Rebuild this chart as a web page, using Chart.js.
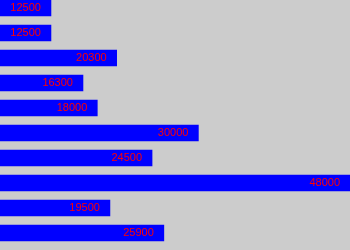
<!DOCTYPE html>
<html>
<head>
<meta charset="utf-8">
<script src="https://cdn.jsdelivr.net/npm/chart.js@4"></script>
<style>
    html, body { margin: 0; padding: 0; background: #cccccc; }
    #wrap { width: 350px; height: 250px; }
</style>
</head>
<body>
<div id="wrap"><canvas id="salaryChart" width="350" height="250"></canvas></div>
<script>
const categories = ['1', '2', '3', '4', '5', '6', '7', '8', '9', '10'];
const salaries = [12500, 12500, 20300, 16300, 18000, 30000, 24500, 48000, 19500, 25900];
const axisMin = 6450;
const axisMax = 48000;

// draws the value inside the end of each bar
const barLabels = {
    id: 'barLabels',
    afterDatasetsDraw(chart) {
        const ctx = chart.ctx;
        const meta = chart.getDatasetMeta(0);
        ctx.save();
        ctx.font = '11px "Liberation Sans", Arial, sans-serif';
        ctx.fillStyle = '#ff0000';
        ctx.textAlign = 'right';
        ctx.textBaseline = 'middle';
        meta.data.forEach((bar, i) => {
            ctx.fillText(String(salaries[i]), bar.x - 10, bar.y);
        });
        ctx.restore();
    }
};

new Chart(document.getElementById('salaryChart').getContext('2d'), {
    type: 'bar',
    data: {
        labels: categories,
        datasets: [{
            data: salaries,
            backgroundColor: '#0000ff',
            borderWidth: 0,
            barThickness: 16,
            clip: false
        }]
    },
    options: {
        indexAxis: 'y',
        responsive: false,
        animation: false,
        layout: { padding: { top: 8, bottom: 17, left: 0, right: 0 } },
        plugins: {
            legend: { display: false },
            tooltip: { enabled: false }
        },
        scales: {
            x: { display: false, min: axisMin, max: axisMax },
            y: { display: false, offset: false }
        }
    },
    plugins: [barLabels]
});
</script>
</body>
</html>
